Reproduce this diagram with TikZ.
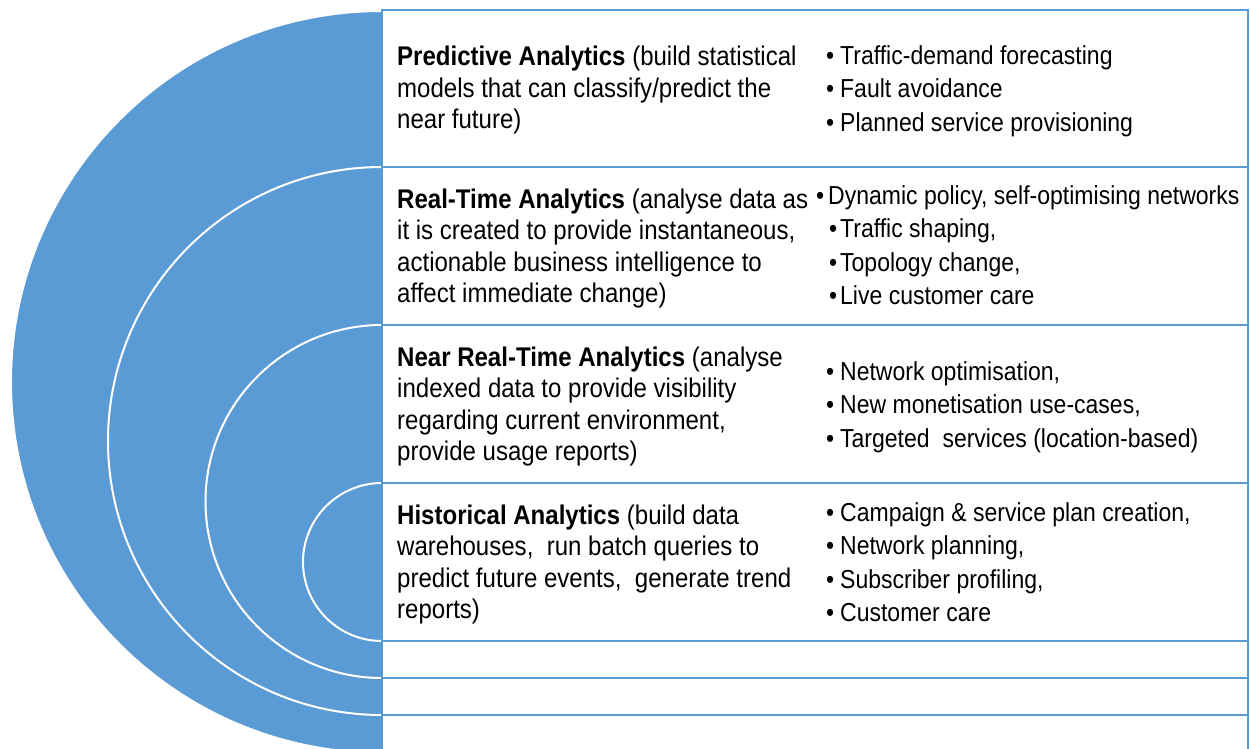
\documentclass[tikz,border=0pt]{standalone}
\usepackage{fontspec}
\setmainfont{Liberation Sans}
\definecolor{accent}{HTML}{5B9BD5}
\newcommand\bulitem{\makebox[15.8pt][l]{•}}
\newcommand\bulnarrow{\makebox[13.5pt][l]{•}}
\newcommand\bulindent{\hspace{14.7pt}\makebox[12.4pt][l]{•}}
\newcommand\narrowL[1]{\scalebox{0.89}[1]{\begin{tabular}{@{}l@{}}#1\end{tabular}}}
\newcommand\narrowR[1]{\scalebox{0.885}[1]{\begin{tabular}{@{}l@{}}#1\end{tabular}}}
\begin{document}
\begin{tikzpicture}[x=1pt,y=-1pt,
  disk/.style={fill=accent,draw=white,line width=2pt},
  rowbox/.style={draw=accent,fill=white,line width=2pt},
  lefttext/.style={anchor=west,inner sep=0pt,font=\fontsize{27}{31.5}\selectfont},
  righttext/.style={anchor=west,inner sep=0pt,font=\fontsize{26}{33.5}\selectfont}]
\useasboundingbox (0,0) rectangle (1250,749);
\clip (0,0) rectangle (1250,749);
% nested half disks
\filldraw[disk] (382,11) arc[start angle=270,end angle=90,radius=371] -- cycle;
\filldraw[disk] (382,167) arc[start angle=270,end angle=90,radius=274] -- cycle;
\filldraw[disk] (382,325) arc[start angle=270,end angle=90,radius=176.5] -- cycle;
\filldraw[disk] (382,483) arc[start angle=270,end angle=90,radius=79] -- cycle;
% rows
\draw[rowbox] (382,10) rectangle (1248,167);
\draw[rowbox] (382,167) rectangle (1248,325);
\draw[rowbox] (382,325) rectangle (1248,483);
\draw[rowbox] (382,483) rectangle (1248,641);
\draw[rowbox] (382,641) rectangle (1248,678);
\draw[rowbox] (382,678) rectangle (1248,715);
\draw[rowbox] (382,715) rectangle (1248,770);
% left texts
\node[lefttext] (l1) at (397,91) {\narrowL{\textbf{Predictive Analytics} (build statistical\\models that can classify/predict the\\near future)}};
\node[lefttext] (l2) at (397,249) {\narrowL{\textbf{Real-Time Analytics} (analyse data as\\it is created to provide instantaneous,\\actionable business intelligence to\\affect immediate change)}};
\node[lefttext] (l3) at (397,407) {\narrowL{\textbf{Near Real-Time Analytics} (analyse\\indexed data to provide visibility\\regarding current environment,\\provide usage reports)}};
\node[lefttext] (l4) at (397,565) {\narrowL{\textbf{Historical Analytics} (build data\\warehouses,\ \ run batch queries to\\predict future events,\ \ generate trend\\reports)}};
% right texts
\node[righttext] (r1) at (826,91) {\narrowR{\bulitem Traffic-demand forecasting\\\bulitem Fault avoidance\\\bulitem Planned service provisioning}};
\node[righttext] (r2) at (816,248) {\narrowR{\bulnarrow Dynamic policy, self-optimising networks\\\bulindent Traffic shaping,\\\bulindent Topology change,\\\bulindent Live customer care}};
\node[righttext] (r3) at (826,407) {\narrowR{\bulitem Network optimisation,\\\bulitem New monetisation use-cases,\\\bulitem Targeted\ \ services (location-based)}};
\node[righttext] (r4) at (826,565) {\narrowR{\bulitem Campaign \& service plan creation,\\\bulitem Network planning,\\\bulitem Subscriber profiling,\\\bulitem Customer care}};
\end{tikzpicture}
\end{document}
